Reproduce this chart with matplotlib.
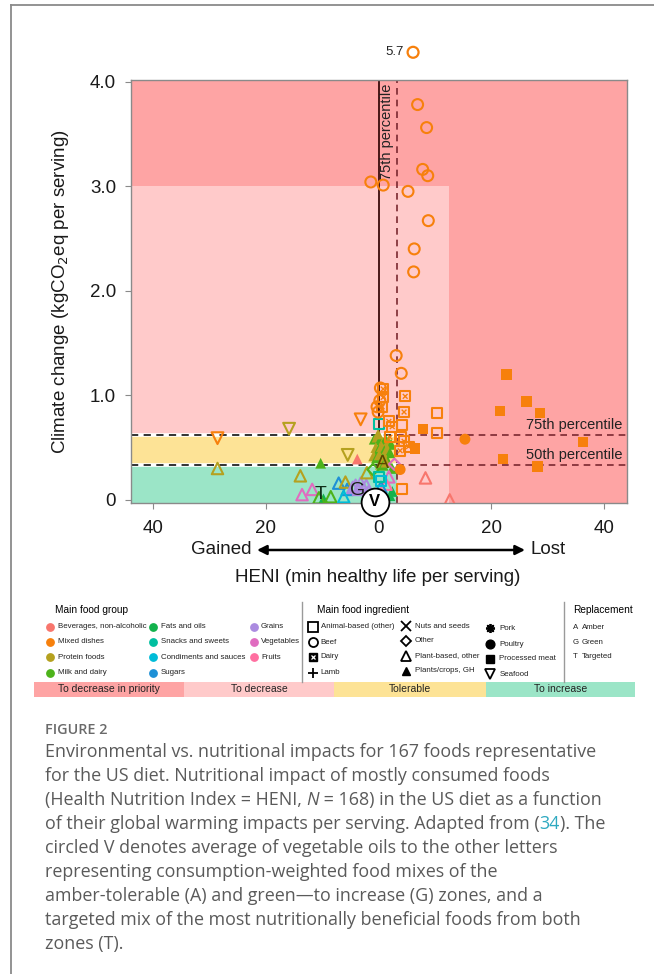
import numpy as np
import matplotlib.pyplot as plt
from matplotlib.lines import Line2D
from matplotlib.patches import Rectangle

plt.rcParams['font.family'] = ['Liberation Sans', 'DejaVu Sans']

# ---- data ----
grp_keys = ['bev', 'mix', 'pro', 'milk', 'fat', 'snk', 'cond', 'sug', 'grn', 'veg', 'fru']
grp_names = ['Beverages, non-alcoholic', 'Mixed dishes', 'Protein foods', 'Milk and dairy',
             'Fats and oils', 'Snacks and sweets', 'Condiments and sauces', 'Sugars',
             'Grains', 'Vegetables', 'Fruits']
grp_colors = ['#F8766D', '#F7800C', '#B5A11F', '#4DB31A', '#12B24C', '#00BFA0',
              '#00BCD8', '#1E90D6', '#AB8BE0', '#E06CC0', '#FF6FA0']
col = dict(zip(grp_keys, grp_colors))

ingr_names = ['Animal-based (other)', 'Beef', 'Dairy', 'Lamb',
              'Nuts and seeds', 'Other', 'Plant-based, other', 'Plants/crops, GH',
              'Pork', 'Poultry', 'Processed meat', 'Seafood']
zone_names = ['To decrease in priority', 'To decrease', 'Tolerable', 'To increase']
zone_colors = ['#FEA4A4', '#FFCACA', '#FDE396', '#9BE5C7']
repl_letters = ['A', 'G', 'T']
repl_names = ['Amber', 'Green', 'Targeted']

# beef (open circles)
beef_x = [6.9, 8.5, 7.8, 8.7, -1.4, 0.8, 5.2, 8.8, 6.3, 6.2, 3.1, 4.0, 0.3, -0.3, -0.1, 0.2]
beef_y = [3.78, 3.56, 3.16, 3.10, 3.04, 3.01, 2.95, 2.67, 2.40, 2.18, 1.38, 1.21, 1.07, 0.89, 0.84, 0.95]
beef_g = ['mix'] * 16
beef_out_x, beef_out_y = 6.1, 5.7   # off-scale value

# dairy (boxed x)
dairy_x = [0.8, 0.8, 0.6, 4.7, 4.5, 1.8, 2.4, 4.5, 5.3, 3.8, 2.0]
dairy_y = [1.06, 0.98, 0.89, 0.99, 0.84, 0.75, 0.70, 0.56, 0.51, 0.47, 0.60]
dairy_g = ['mix'] * 11

# animal-based other (open squares)
anim_x = [10.4, 10.4, 4.1, 4.1, 3.9, 0.0, 0.1, 0.4]
anim_y = [0.83, 0.64, 0.72, 0.10, 0.60, 0.73, 0.22, 0.18]
anim_g = ['mix', 'mix', 'mix', 'mix', 'mix', 'snk', 'snk', 'cond']

lamb_x = [2.0, 7.1]
lamb_y = [1.28, 1.45]
lamb_g = ['mix', 'mix']

pork_x = [9.4, 6.5]
pork_y = [1.78, 1.46]
pork_g = ['mix', 'pro']

proc_x = [22.7, 21.5, 7.9, 36.3, 26.2, 28.6, 22.1, 28.2, 6.5]
proc_y = [1.20, 0.85, 0.68, 0.55, 0.94, 0.83, 0.39, 0.32, 0.49]
proc_g = ['mix'] * 9

poul_x = [15.3, 3.8]
poul_y = [0.58, 0.29]
poul_g = ['mix', 'mix']

sea_x = [-28.6, -15.9, -3.2, -5.5]
sea_y = [0.59, 0.68, 0.77, 0.43]
sea_g = ['mix', 'pro', 'mix', 'pro']

nuts_x = [-33.2, -25.3, -23.8, -25.0]
nuts_y = [0.29, 0.11, 0.09, 0.07]
nuts_g = ['pro', 'milk', 'milk', 'milk']

plant_x = [8.3, 12.6, -28.6, -13.9, -13.6, -11.8, -10.6, -8.5, -7.1, -5.6, -5.9, -6.2,
           -4.6, -4.1, -3.6, -3.2, -2.7, -2.2, -1.8, -2.1, 1.8, 1.3, -0.8, 0.4]
plant_y = [0.21, 0.00, 0.30, 0.23, 0.05, 0.10, 0.02, 0.03, 0.16, 0.10, 0.17, 0.03,
           0.12, 0.14, 0.10, 0.16, 0.11, 0.14, 0.08, 0.26, 0.22, 0.15, 0.05, 0.12]
plant_g = ['bev', 'bev', 'pro', 'pro', 'veg', 'veg', 'milk', 'milk', 'sug', 'sug', 'pro', 'cond',
           'grn', 'grn', 'grn', 'grn', 'grn', 'grn', 'grn', 'pro', 'veg', 'fru', 'cond', 'sug']

crop_x = [-10.3, -3.8, 1.0, 2.0, 2.4, -9.8,
          -0.8, -0.3, 0.2, 0.7, 1.2, 1.7, 2.2, -0.5, 0.0, 0.5, 1.0, 1.5, 2.0,
          -0.9, -0.4, 0.1, 0.6, 1.1, 1.6, 0.3, 0.8, 1.3, 2.4, -0.1]
crop_y = [0.35, 0.39, 0.05, 0.04, 0.08, 0.01,
          0.58, 0.60, 0.57, 0.55, 0.58, 0.56, 0.53, 0.50, 0.48, 0.51, 0.47, 0.49, 0.45,
          0.42, 0.40, 0.43, 0.38, 0.41, 0.37, 0.34, 0.33, 0.36, 0.30, 0.63]
crop_g = ['milk', 'bev', 'fat', 'fat', 'fat', 'fat',
          'milk', 'pro', 'milk', 'pro', 'milk', 'pro', 'milk', 'pro', 'milk', 'pro', 'milk', 'pro', 'milk',
          'pro', 'milk', 'pro', 'milk', 'pro', 'milk', 'pro', 'milk', 'pro', 'milk', 'pro']

other_x = [2.8, -1.0]
other_y = [0.34, 0.29]
other_g = ['veg', 'milk']

# replacement mixes and vegetable oils
repl_x = [0.6, -3.8, -10.3]
repl_y = [0.35, 0.09, 0.05]
oil_x, oil_y = -0.7, -0.02

# thresholds
p50, p75 = 0.337, 0.624
heni_p75 = 3.26
pink_x, pink_y = 12.5, 3.0

x_lo, x_hi = -44, 44
y_lo, y_hi = -0.03, 4.015

# ---- figure ----
W, H = 654, 974
fig = plt.figure(figsize=(W / 100, H / 100), dpi=100)
ax = fig.add_axes([130.7 / W, 1 - 503 / H, 496 / W, 423 / H])
ax.set_xlim(x_lo, x_hi)
ax.set_ylim(y_lo, y_hi)

ax.set_facecolor(zone_colors[0])
ax.add_patch(Rectangle((x_lo, y_lo - 1), pink_x - x_lo, pink_y - y_lo + 1, color=zone_colors[1], zorder=0, lw=0))
ax.add_patch(Rectangle((x_lo, p50), heni_p75 - x_lo, p75 - p50, color=zone_colors[2], zorder=0, lw=0))
ax.add_patch(Rectangle((x_lo, y_lo - 1), heni_p75 - x_lo, p50 - y_lo + 1, color=zone_colors[3], zorder=0, lw=0))

# threshold lines
ax.plot([0, 0], [p75, y_hi], color='#3B0B0B', lw=1.3, zorder=1)
ax.axvline(heni_p75, color='#7A2830', ls=(0, (4, 3)), lw=1.2, zorder=1)
for yy in (p50, p75):
    ax.plot([x_lo, heni_p75], [yy, yy], color='white', lw=2.6, zorder=1)
    ax.plot([x_lo, heni_p75], [yy, yy], color='#222222', lw=1.3, ls=(0, (4, 3)), zorder=1)
    ax.plot([heni_p75, x_hi], [yy, yy], color='#7A2830', lw=1.2, ls=(0, (4, 3)), zorder=1)

ax.text(1.4, 3.98, '75th percentile', rotation=90, ha='center', va='top', fontsize=10.5, color='#222')
ax.text(43.3, 0.72, '75th percentile', ha='right', va='center', fontsize=10.5, color='#222')
ax.text(43.3, 0.43, '50th percentile', ha='right', va='center', fontsize=10.5, color='#222')


def pts(xs, ys, gs, marker, filled, s=55, lw=1.5):
    cs = [col[g] for g in gs]
    if filled:
        ax.scatter(xs, ys, marker=marker, c=cs, s=s, lw=0, zorder=3)
    else:
        ax.scatter(xs, ys, marker=marker, facecolors='none', edgecolors=cs, s=s, lw=lw, zorder=3)


pts(crop_x, crop_y, crop_g, '^', True, s=60)
pts(plant_x, plant_y, plant_g, '^', False, s=68)
pts(other_x, other_y, other_g, 'D', False, s=34)
pts(nuts_x, nuts_y, nuts_g, 'x', False, s=52)
pts(sea_x, sea_y, sea_g, 'v', False, s=72)
pts(anim_x, anim_y, anim_g, 's', False, s=52)
pts(dairy_x, dairy_y, dairy_g, 's', False, s=52)
ax.scatter(dairy_x, dairy_y, marker='x', c=[col[g] for g in dairy_g], s=12, lw=1.0, zorder=3)
pts(beef_x, beef_y, beef_g, 'o', False, s=62)
pts(lamb_x, lamb_y, lamb_g, '+', False, s=95)
pts(pork_x, pork_y, pork_g, (8, 2, 0), False, s=95, lw=1.6)
pts(proc_x, proc_y, proc_g, 's', True, s=55)
pts(poul_x, poul_y, poul_g, 'o', True, s=62)

# off-scale beef value above the panel
ax.scatter([beef_out_x], [y_hi + 0.265], marker='o', facecolors='none', edgecolors=col['mix'],
           s=62, lw=1.6, clip_on=False, zorder=3)
ax.text(beef_out_x - 1.6, y_hi + 0.265, f'{beef_out_y:.1f}', ha='right', va='center', fontsize=9.5, color='#222')

for lx, ly, lt, lc in zip(repl_x, repl_y, repl_letters, ['#5A4800', '#1A1A1A', '#0E2E18']):
    ax.text(lx, ly, lt, ha='center', va='center', fontsize=14, color=lc, zorder=5)
ax.scatter([oil_x], [oil_y], s=400, facecolors='white', edgecolors='black', lw=1.3, clip_on=False, zorder=6)
ax.text(oil_x, oil_y, 'V', ha='center', va='center', fontsize=12, fontweight='bold', zorder=7)

for sp in ax.spines.values():
    sp.set_color('#8A8A8A')
    sp.set_linewidth(1.0)
ax.set_xticks([-40, -20, 0, 20, 40])
ax.set_xticklabels(['40', '20', '0', '20', '40'])
ax.set_yticks([0, 1, 2, 3, 4])
ax.set_yticklabels(['0', '1.0', '2.0', '3.0', '4.0'])
ax.tick_params(direction='out', length=4.5, color='#8A8A8A', labelsize=13.5, labelcolor='#1A1A1A')
ax.tick_params(axis='y', pad=6)
ax.tick_params(axis='x', pad=7.5)
ax.set_ylabel('Climate change (kgCO$_2$eq per serving)', fontsize=13.5, color='#1A1A1A')
ax.yaxis.set_label_coords((71 - 130.7) / 496, 0.5)

# ---- overlay in pixel coordinates ----
ov = fig.add_axes([0, 0, 1, 1])
ov.set_xlim(0, W)
ov.set_ylim(H, 0)
ov.axis('off')

# frame
ov.add_line(Line2D([10.7, W], [5.3, 5.3], color='#8A8A8A', lw=1.3))
ov.add_line(Line2D([10.7, 10.7], [5.3, H], color='#8A8A8A', lw=1.3))

# x axis caption
ov.annotate('', xy=(257, 550), xytext=(525, 550),
            arrowprops=dict(arrowstyle='<|-|>', lw=1.8, color='black', mutation_scale=14,
                            shrinkA=0, shrinkB=0))
ov.text(252, 550, 'Gained', ha='right', va='center', fontsize=13.5, color='#1A1A1A')
ov.text(530, 550, 'Lost', ha='left', va='center', fontsize=13.5, color='#1A1A1A')
ov.text(378, 577, 'HENI (min healthy life per serving)', ha='center', va='center', fontsize=13.5, color='#1A1A1A')

# legend: food groups
ov.text(55, 610, 'Main food group', fontsize=7.3, va='center')
rows = [626.7, 641.7, 657.3, 672.7]
gcols = [(50, 57.7), (153.3, 160.7), (254, 261)]
for i, (name, c) in enumerate(zip(grp_names, grp_colors)):
    cx, tx = gcols[i // 4]
    ry = rows[i % 4]
    ov.plot(cx, ry, 'o', ms=5.3, color=c)
    ov.text(tx, ry, name, fontsize=5.7, va='center', color='#222')

for sx in (302, 563.5):
    ov.add_line(Line2D([sx, sx], [602, 682], color='#9A9A9A', lw=1))

# legend: ingredients
ov.text(317, 610, 'Main food ingredient', fontsize=7.3, va='center')
icols = [(312.7, 320.7, [627, 642, 657, 672.7]),
         (406, 415, [626, 640.5, 655.5, 671]),
         (490, 499.3, [628, 644, 659, 674])]
ingr_marks = [('s', False), ('o', False), ('s', True), ('+', False),
              ('x', False), ('D', False), ('^', False), ('^', True),
              ((8, 2, 0), False), ('o', True), ('s', True), ('v', False)]
for i, name in enumerate(ingr_names):
    mx, tx, rr = icols[i // 4]
    ry = rr[i % 4]
    mk, filled = ingr_marks[i]
    if filled:
        ov.plot(mx, ry, marker=mk, ms=6.3, color='black', ls='none')
    else:
        ov.plot(mx, ry, marker=mk, ms=6.5 if mk != 'D' else 5.5, mfc='none', mec='black', mew=1.3, ls='none')
    if name == 'Dairy':
        ov.plot(mx, ry, marker='x', ms=3, mec='white', mew=0.9, ls='none')
    ov.text(tx, ry, name, fontsize=5.7, va='center', color='#222')

# legend: replacement
ov.text(573, 610, 'Replacement', fontsize=7.3, va='center')
for ry, lt, nm in zip([627.7, 642, 656], repl_letters, repl_names):
    ov.text(572.7, ry, lt, fontsize=5.7, va='center', color='#222')
    ov.text(581.7, ry, nm, fontsize=5.7, va='center', color='#222')

# zone colour bar
edges = [34, 184, 334, 485.7, 635]
for i, (nm, c) in enumerate(zip(zone_names, zone_colors)):
    ov.add_patch(Rectangle((edges[i], 682), edges[i + 1] - edges[i], 14.5, color=c, lw=0))
    ov.text((edges[i] + edges[i + 1]) / 2, 689.5, nm, ha='center', va='center', fontsize=7.5, color='#222')

# figure caption
cap = dict(family=['Open Sans', 'DejaVu Sans'], fontsize=12.9, color='#5A5A5A')
ov.text(45, 730, 'FIGURE 2', family=['Open Sans', 'DejaVu Sans'], fontsize=10.4,
        fontweight='semibold', color='#6A6A6A', va='center')

cap_lines = [
    [('Environmental vs. nutritional impacts for 167 foods representative', {})],
    [('for the US diet. Nutritional impact of mostly consumed foods', {})],
    [('(Health Nutrition Index = HENI, ', {}), ('N', {'style': 'italic'}),
     (' = 168) in the US diet as a function', {})],
    [('of their global warming impacts per serving. Adapted from (', {}),
     ('34', {'color': '#2EA9C0'}), ('). The', {})],
    [('circled V denotes average of vegetable oils to the other letters', {})],
    [('representing consumption-weighted food mixes of the', {})],
    [('amber-tolerable (A) and green\u2014to increase (G) zones, and a', {})],
    [('targeted mix of the most nutritionally beneficial foods from both', {})],
    [('zones (T).', {})],
]
for k, parts in enumerate(cap_lines):
    y = 752 + 24.05 * k
    prev = None
    for txt, kw in parts:
        opts = dict(cap)
        opts.update(kw)
        if prev is None:
            prev = ov.text(45, y, txt, ha='left', va='center', **opts)
        else:
            prev = ov.annotate(txt, xy=(1, 0), xycoords=prev, ha='left', va='bottom', **opts)

fig.savefig('out.png', dpi=100)
